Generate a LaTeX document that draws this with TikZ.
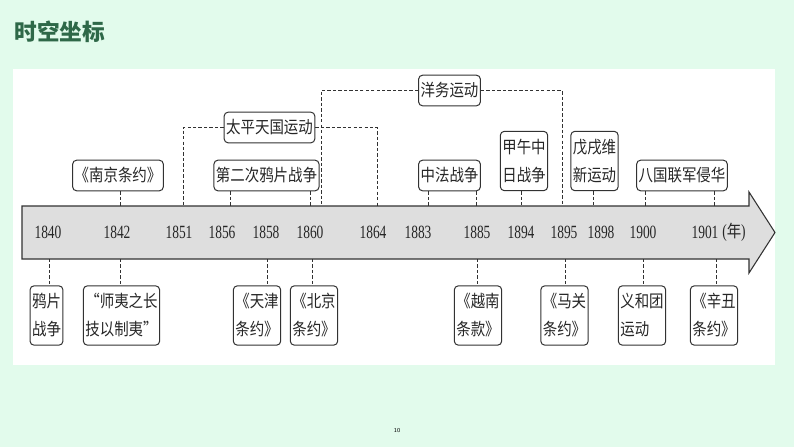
\documentclass[tikz,border=0pt]{standalone}
\usepackage{fontspec}
\usepackage{xcolor}
\usepackage{tikz}
\usetikzlibrary{positioning,calc}
\newfontfamily\cjk{Noto Sans CJK SC}[FakeStretch=0.85]
\newfontfamily\cjktitle{Noto Sans CJK SC}
\newfontfamily\yearfont{Liberation Serif}[FakeStretch=0.72]
\definecolor{pagebg}{RGB}{226,251,236}
\definecolor{titlegreen}{RGB}{46,104,72}
\definecolor{bandgray}{RGB}{222,222,222}
\definecolor{edgegray}{RGB}{50,50,50}
\tikzset{
  band/.style={draw=edgegray, fill=bandgray, line width=0.8pt, line join=miter},
  year/.style={font=\yearfont\fontsize{14}{16}\selectfont, inner sep=0pt, text=black!85},
  evbox/.style={draw=edgegray, fill=white, line width=0.75pt, rounded corners=3pt,
                inner xsep=1.5pt, inner ysep=1pt, minimum height=23pt,
                font=\cjk\fontsize{12.75}{21}\selectfont, text=black!85},
  evbox2/.style={evbox, minimum height=44.5pt, align=left},
  link/.style={draw=edgegray, line width=0.6pt, dash pattern=on 2.5pt off 1.6pt},
  ttl/.style={font=\cjktitle\bfseries\fontsize{17}{20}\selectfont, text=titlegreen, inner sep=0pt},
  pnum/.style={font=\sffamily\fontsize{4.5}{5}\selectfont, inner sep=0pt}
}

\begin{document}
\begin{tikzpicture}[x=0.75pt,y=-0.75pt]
\useasboundingbox (0,0) rectangle (794,447);
\fill[pagebg] (0,0) rectangle (794,447);
\fill[white] (13,69) rectangle (775,365);
\node[ttl] (title) at (60,32) {时空坐标};
% time axis
\draw[band] (22,206) -- (749,206) -- (749,192) -- (775,232.5) -- (749,273) -- (749,259) -- (22,259) -- cycle;
\foreach \yr/\xx in {1840/48,1842/117,1851/179,1856/222,1858/266,1860/310,1864/373,1883/418,1885/477,1894/521,1895/564,1898/601,1900/643,1901/705}
  \node[year] (y\yr) at (\xx,232.5) {\yr};
\node[year] (unit) at (734,232.5) {({\cjk\fontsize{12.75}{16}\selectfont 年})};
\foreach \nm/\xx in {1842/120,1851/183,1856/230,1860/310,1861/321,1864/377,1883/428,1885/476,1894/521,1895/562,1898/593,1900/645,1901/714}
  \coordinate (top\nm) at (\xx,206);
\foreach \nm/\xx in {1840/49,1842/120,1858/267,1860/312,1885/477,1895/565,1900/643,1901/716}
  \coordinate (bot\nm) at (\xx,259);
% events above the axis
\node[evbox] (nanjing) at (118,175.5) {《南京条约》};
\node[evbox] (opium2) at (266.5,175.5) {第二次鸦片战争};
\node[evbox] (taiping) at (269.5,127.5) {太平天国运动};
\node[evbox] (yangwu) at (449.5,90.5) {洋务运动};
\node[evbox] (sinofr) at (449.5,175.5) {中法战争};
\node[evbox2] (jiawu) at (524,161) {甲午中\\日战争};
\node[evbox2] (wuxu) at (594.5,161) {戊戌维\\新运动};
\node[evbox] (baguo) at (682,175.5) {八国联军侵华};
\draw[link] (nanjing.south -| top1842) -- (top1842);
\draw[link] (opium2.south -| top1856) -- (top1856);
\draw[link] (opium2.south -| top1860) -- (top1860);
\draw[link] (taiping.west) -| (top1851);
\draw[link] (taiping.east) -| (top1864);
\draw[link] (yangwu.west) -| (top1861);
\draw[link] (yangwu.east) -| (top1895);
\draw[link] (sinofr.south -| top1883) -- (top1883);
\draw[link] (sinofr.south -| top1885) -- (top1885);
\draw[link] (jiawu.south -| top1894) -- (top1894);
\draw[link] (wuxu.south -| top1898) -- (top1898);
\draw[link] (baguo.south -| top1900) -- (top1900);
\draw[link] (baguo.south -| top1901) -- (top1901);
% events below the axis
\node[evbox2] (yapian) at (46.5,315.5) {鸦片\\战争};
\node[evbox2] (shiyi) at (121.5,315.5) {“师夷之长\\技以制夷”};
\node[evbox2] (tianjin) at (257,315.5) {《天津\\条约》};
\node[evbox2] (beijing) at (314,315.5) {《北京\\条约》};
\node[evbox2] (yuenan) at (478,315.5) {《越南\\条款》};
\node[evbox2] (maguan) at (564.5,315.5) {《马关\\条约》};
\node[evbox2] (yihe) at (642,315.5) {义和团\\运动};
\node[evbox2] (xinchou) at (714,315.5) {《辛丑\\条约》};
\draw[link] (bot1840) -- (yapian.north -| bot1840);
\draw[link] (bot1842) -- (shiyi.north -| bot1842);
\draw[link] (bot1858) -- (tianjin.north -| bot1858);
\draw[link] (bot1860) -- (beijing.north -| bot1860);
\draw[link] (bot1885) -- (yuenan.north -| bot1885);
\draw[link] (bot1895) -- (maguan.north -| bot1895);
\draw[link] (bot1900) -- (yihe.north -| bot1900);
\draw[link] (bot1901) -- (xinchou.north -| bot1901);
\node[pnum] (page) at (397,431) {10};
\end{tikzpicture}
\end{document}
